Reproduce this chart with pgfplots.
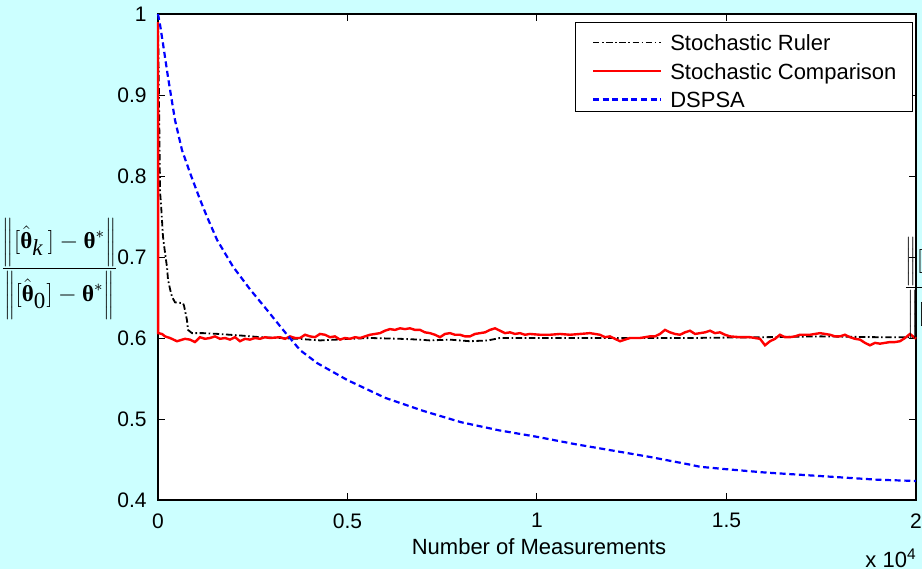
\documentclass[border=0pt]{standalone}
\usepackage{pgfplots}
\pgfplotsset{compat=1.18}
\usepackage{fontspec}
\setmainfont{Liberation Sans}
\newfontfamily\tnr{Liberation Serif}
\definecolor{bgcyan}{RGB}{204,255,255}

% bold upright theta as in the original label
\newcommand{\thb}{\mbox{\tnr\bfseries θ}}
\newcommand{\normfrac}{\fontsize{11.5}{14}\selectfont$\displaystyle
  \frac{\left\|\rule[-6pt]{0pt}{19pt}[\hat{\thb}_{\mbox{\tnr\itshape k}}\,]-\thb^{*}\right\|}
       {\left\|\rule[-6pt]{0pt}{19pt}[\hat{\thb}_{\mbox{\tnr 0}}]-\thb^{*}\right\|}$}

\pgfplotstableread{
m v
0 0.990
20 0.920
40 0.840
55 0.780
80 0.765
132 0.725
200 0.700
237 0.688
264 0.672
320 0.660
369 0.651
449 0.644
660 0.643
686 0.640
730 0.630
765 0.622
791 0.610
897 0.606
1200 0.606
1600 0.605
2200 0.603
2700 0.601
3200 0.600
3700 0.599
4274 0.597
4700 0.598
5066 0.599
5600 0.600
6385 0.599
6900 0.598
7177 0.597
7700 0.598
8232 0.596
8700 0.597
9024 0.600
10343 0.600
12000 0.600
14000 0.600
16000 0.601
17500 0.602
19000 0.601
20000 0.601
}\ruler

\pgfplotstableread{
m v
0 0.990
5 0.606
106 0.605
185 0.602
317 0.600
501 0.596
712 0.599
844 0.598
976 0.595
1108 0.601
1240 0.599
1372 0.600
1504 0.602
1636 0.599
1768 0.600
1900 0.598
2032 0.601
2164 0.596
2295 0.599
2427 0.598
2559 0.600
2691 0.599
2823 0.601
2955 0.600
3219 0.601
3351 0.599
3483 0.602
3615 0.600
3747 0.600
3879 0.604
4011 0.602
4142 0.601
4274 0.605
4406 0.604
4538 0.601
4670 0.602
4802 0.598
4934 0.600
5066 0.599
5198 0.601
5330 0.600
5462 0.602
5594 0.604
5726 0.605
5857 0.606
5989 0.609
6121 0.611
6253 0.610
6385 0.612
6517 0.611
6649 0.612
6781 0.610
6913 0.610
7045 0.607
7177 0.606
7309 0.604
7441 0.601
7572 0.605
7704 0.606
7836 0.604
7968 0.604
8100 0.602
8232 0.602
8364 0.605
8496 0.606
8628 0.607
8760 0.610
8892 0.612
9024 0.609
9156 0.606
9288 0.607
9419 0.605
9551 0.606
9683 0.604
9815 0.605
10079 0.604
10343 0.604
10607 0.605
10871 0.604
11134 0.605
11398 0.606
11662 0.604
11794 0.601
11926 0.602
12058 0.599
12190 0.596
12322 0.598
12454 0.600
12718 0.600
12981 0.602
13113 0.602
13245 0.605
13377 0.610
13509 0.607
13641 0.605
13773 0.604
13905 0.607
14037 0.609
14169 0.605
14301 0.606
14433 0.607
14565 0.609
14696 0.606
14828 0.607
14960 0.604
15092 0.602
15356 0.601
15620 0.601
15752 0.600
15884 0.599
16016 0.591
16148 0.596
16280 0.599
16411 0.604
16543 0.601
16675 0.601
16807 0.602
16939 0.604
17203 0.604
17335 0.605
17467 0.606
17599 0.605
17731 0.604
17863 0.602
17995 0.602
18126 0.604
18258 0.601
18390 0.599
18522 0.598
18654 0.594
18786 0.591
18918 0.594
19050 0.593
19182 0.594
19314 0.595
19446 0.595
19578 0.596
19710 0.600
19842 0.605
19921 0.602
20000 0.599
}\comparison

\pgfplotstableread{
m v
0 1.000
60 0.985
130 0.964
264 0.922
449 0.869
633 0.832
844 0.804
1100 0.772
1290 0.750
1560 0.721
1980 0.688
2430 0.660
2870 0.635
3300 0.610
3750 0.585
4200 0.569
5000 0.548
6000 0.526
7000 0.510
8000 0.496
9000 0.486
10000 0.478
11000 0.469
12000 0.461
13000 0.453
14000 0.444
14300 0.441
15000 0.438
16000 0.434
17000 0.431
18000 0.428
19000 0.425
20000 0.4235
}\dspsa

\begin{document}
\begin{tikzpicture}
\fill[bgcyan] (-79pt,-34.5pt) rectangle (382pt,250pt);
\clip (-79pt,-34.5pt) rectangle (382pt,250pt);
\begin{axis}[
    at={(0,0)}, anchor=south west,
    scale only axis,
    width=379pt, height=243pt,
    xmin=0, xmax=20000, ymin=0.4, ymax=1,
    clip=false,
    axis background/.style={fill=white},
    axis line style={line width=0.6pt},
    xtick={0,5000,10000,15000,20000},
    xticklabels={0,0.5,1,1.5,2},
    ytick={0.4,0.5,0.6,0.7,0.8,0.9,1},
    yticklabels={0.4,0.5,0.6,0.7,0.8,0.9,1},
    scaled x ticks=false,
    tick align=inside,
    major tick length=3.5pt,
    tick style={black, line width=0.5pt},
    ticklabel style={font=\fontsize{10.5}{12}\selectfont},
    xticklabel style={inner sep=0pt, anchor=north, yshift=-6.5pt},
    yticklabel style={inner sep=0pt, anchor=east, xshift=-5.5pt},
    /pgf/number format/assume math mode=true,
    legend style={at={(1,1)}, anchor=north east, xshift=-1.5pt, yshift=-4pt,
        draw=black, line width=0.5pt, fill=white,
        font=\fontsize{11}{13}\selectfont,
        inner xsep=8pt, inner ysep=2pt, row sep=2.25pt, column sep=4pt,
        nodes={inner sep=0pt, text height=12pt, text depth=0pt},
        cells={anchor=base west}},
    legend image code/.code={\draw[#1] (0pt,4pt) -- (34pt,4pt);},
]
\addplot[black, line width=0.9pt, dash pattern=on 3.2pt off 1.3pt on 0.8pt off 1.3pt]
    table[x=m, y=v] {\ruler};
\addlegendentry{Stochastic Ruler}
\addplot[red, line width=1.2pt] table[x=m, y=v] {\comparison};
\addlegendentry{Stochastic Comparison}
\addplot[blue, line width=1.1pt, dash pattern=on 3pt off 1.8pt]
    table[x=m, y=v] {\dspsa};
\addlegendentry{DSPSA}
\end{axis}
\node[anchor=base, inner sep=0pt, font=\fontsize{11}{13}\selectfont]
    at (190.5pt,-27pt) {Number of Measurements};
\node[anchor=base east, inner sep=0pt, font=\fontsize{11}{13}\selectfont]
    at (379.5pt,-33.5pt) {x 10\textsuperscript{4}};
\node[anchor=base west, inner sep=0pt] at (-79pt,112.6pt) {\normfrac};
\node[anchor=base west, inner sep=0pt] at (372.5pt,103.1pt) {\normfrac};
\end{tikzpicture}
\end{document}
